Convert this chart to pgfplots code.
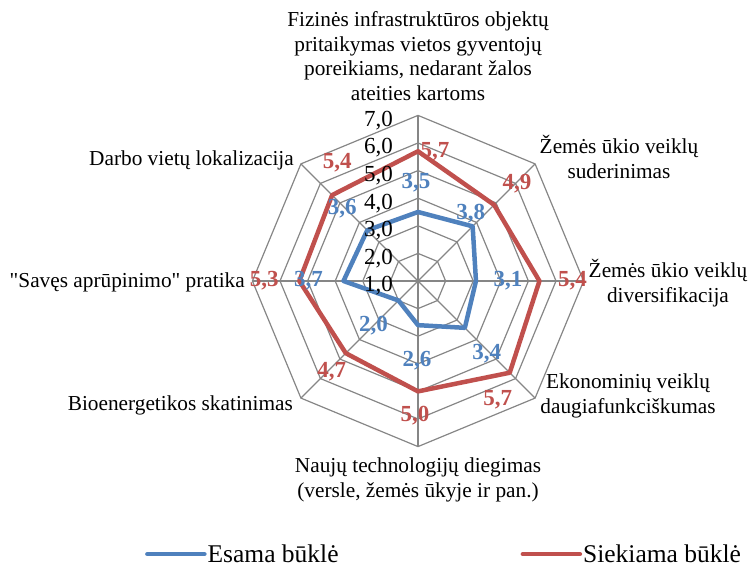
\documentclass[border=0pt]{standalone}
\usepackage{pgfplots}
\usepackage{pgfplotstable}
\pgfplotsset{compat=1.18}
\usepackage{fontspec}
\setmainfont{Liberation Serif}[Ligatures=TeXOff]
\definecolor{esama}{HTML}{4F81BD}
\definecolor{siekiama}{HTML}{C0504D}
\definecolor{gridc}{HTML}{868686}

% angle, value, label shift (pt)
\pgfplotstableread{
a    v    dx   dy
90   3.5  -2   29
45   3.8  -2   13
0    3.1  32   0
-45  3.4  22  -26
-90  2.6  -1  -36
-135 2.0 -25  -25
180  3.7 -35   0
135  3.6 -25   22
90   3.5   0   0
}\esama

\pgfplotstableread{
a    v    dx   dy
90   5.7  17   0
45   4.9  23   21
0    5.4  33   0
-45  5.7 -12  -27
-90  5.0  -3  -24
-135 4.7 -14  -19
180  5.3 -35   0
135  5.4   5   32
90   5.7   0   0
}\siekiama

\pgfplotsset{
  gridline/.style={gridc, line width=1.2pt, forget plot, data cs=polar},
  datalab/.style={draw=none, forget plot, data cs=polar,
    skip coords between index={8}{9},
    point meta=\thisrow{v},
    visualization depends on={\thisrow{dx}\as\dx},
    visualization depends on={\thisrow{dy}\as\dy},
    nodes near coords={\pgfmathprintnumber[assume math mode=true, fixed, fixed zerofill, precision=1, use comma]{\pgfplotspointmeta}},
    every node near coord/.append style={anchor=center, inner sep=0pt,
      font=\fontsize{23}{26}\selectfont\bfseries, text=#1, xshift=\dx pt, yshift=\dy pt}},
}

\begin{document}
\begin{tikzpicture}
\begin{axis}[
  hide axis, clip=false,
  x=27.6pt, y=27.6pt,
  xmin=-15.145, xmax=12.065, ymin=-10.435, ymax=10.181,
  font=\fontsize{21.3}{24.5}\selectfont,
  legend columns=2,
  legend style={at={(rel axis cs:0.193,0.026)}, anchor=west, draw=none, fill=none,
    inner sep=0pt, font=\fontsize{25.5}{28}\selectfont, nodes={inner sep=1pt},
    /tikz/every even column/.append style={column sep=181pt}},
  legend image code/.code={\draw[#1, line cap=round] (0pt,0pt) -- (57pt,0pt);},
]
\path (rel axis cs:0,0) rectangle (rel axis cs:1,1);

% octagonal grid
\pgfplotsinvokeforeach{1,...,6}{
  \addplot[gridline] coordinates {(90,#1) (45,#1) (0,#1) (-45,#1) (-90,#1) (-135,#1) (180,#1) (135,#1) (90,#1)};
}
\pgfplotsinvokeforeach{0,45,...,315}{
  \addplot[gridline] coordinates {(#1,0) (#1,6)};
}

% value axis labels
\addplot[draw=none, forget plot, data cs=polar, point meta=explicit,
  nodes near coords={\pgfmathprintnumber[assume math mode=true, fixed, fixed zerofill, precision=1, use comma]{\pgfplotspointmeta}},
  every node near coord/.append style={anchor=east, inner sep=0pt, xshift=-25pt, yshift=-5pt,
    text=black, font=\fontsize{23}{26}\selectfont}]
  coordinates {(90,0) [1] (90,1) [2] (90,2) [3] (90,3) [4] (90,4) [5] (90,5) [6] (90,6) [7]};

% series
\addplot[esama, line width=4.5pt, line join=round, line cap=round, data cs=polar]
  table[x=a, y expr=\thisrow{v}-1] {\esama};
\addlegendentry{Esama būklė}
\addplot[siekiama, line width=4.5pt, line join=round, line cap=round, data cs=polar]
  table[x=a, y expr=\thisrow{v}-1] {\siekiama};
\addlegendentry{Siekiama būklė}

% data labels
\addplot[datalab=esama] table[x=a, y expr=\thisrow{v}-1] {\esama};
\addplot[datalab=siekiama] table[x=a, y expr=\thisrow{v}-1] {\siekiama};

% category labels
\node[align=center, inner sep=0pt] at (axis cs:0,0) [xshift=0pt, yshift=225pt]
  {Fizinės infrastruktūros objektų\\pritaikymas vietos gyventojų\\poreikiams, nedarant žalos\\ateities kartoms};
\node[align=center, inner sep=0pt] at (axis cs:0,0) [xshift=201pt, yshift=124pt]
  {Žemės ūkio veiklų\\suderinimas};
\node[align=center, inner sep=0pt] at (axis cs:0,0) [xshift=250pt, yshift=-2pt]
  {Žemės ūkio veiklų\\diversifikacija};
\node[align=center, inner sep=0pt] at (axis cs:0,0) [xshift=210pt, yshift=-115pt]
  {Ekonominių veiklų\\daugiafunkciškumas};
\node[align=center, inner sep=0pt] at (axis cs:0,0) [xshift=0pt, yshift=-199pt]
  {Naujų technologijų diegimas\\(versle, žemės ūkyje ir pan.)};
\node[anchor=east, inner sep=0pt] at (axis cs:0,0) [xshift=-125pt, yshift=-124pt]
  {Bioenergetikos skatinimas};
\node[anchor=east, inner sep=0pt] at (axis cs:0,0) [xshift=-173pt, yshift=-1pt]
  {"Savęs aprūpinimo" pratika};
\node[anchor=east, inner sep=0pt] at (axis cs:0,0) [xshift=-124pt, yshift=121pt]
  {Darbo vietų lokalizacija};
\end{axis}
\end{tikzpicture}
\end{document}
